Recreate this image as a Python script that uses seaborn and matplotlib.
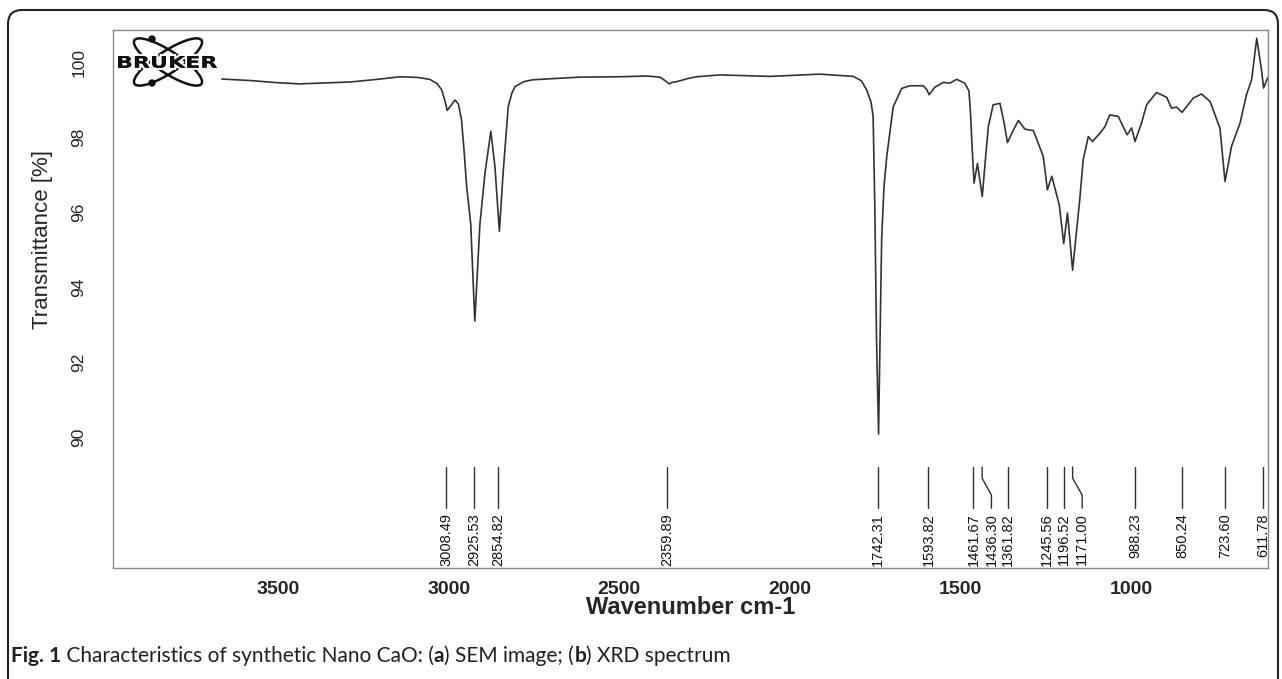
import matplotlib
matplotlib.use("Agg")
import matplotlib.pyplot as plt
import matplotlib.patheffects as pe
from matplotlib.patches import Ellipse, Circle, FancyBboxPatch, PathPatch
from matplotlib.textpath import TextPath
from matplotlib.font_manager import FontProperties
from matplotlib.transforms import IdentityTransform, Affine2D
import pandas as pd
import seaborn as sns

# spectrum (wavenumber cm-1, transmittance %)
wavenumber = [3666, 3584, 3500, 3437, 3380, 3290, 3200, 3144, 3090, 3056,
              3035, 3021, 3012, 3005, 2995, 2982, 2972, 2963, 2955, 2948,
              2936, 2924, 2909, 2894, 2877, 2865, 2852, 2841, 2826, 2815,
              2806, 2780, 2754, 2616, 2500, 2420, 2381, 2365, 2354, 2345,
              2332, 2300, 2274, 2205, 2059, 1912, 1814, 1790, 1775, 1762,
              1756, 1751, 1746, 1740, 1735, 1731, 1724, 1716, 1697, 1672, 1648,
              1609, 1598, 1592, 1575, 1550, 1531, 1511, 1487, 1475, 1470,
              1466, 1460, 1450, 1436, 1425, 1418, 1404, 1384, 1372, 1362,
              1345, 1330, 1311, 1286, 1257, 1245, 1232, 1210, 1197, 1186,
              1171, 1150, 1140, 1125, 1113, 1091, 1076, 1062, 1037, 1023,
              1011, 998, 988, 969, 954, 925, 895, 881, 866, 850,
              817, 793, 768, 739, 724, 705, 680, 661, 646, 631,
              617, 611, 598]
transmittance = [99.57, 99.53, 99.47, 99.44, 99.46, 99.49, 99.57, 99.63, 99.61, 99.56,
                 99.45, 99.28, 99.00, 98.73, 98.85, 99.01, 98.90, 98.48, 97.60, 96.70,
                 95.70, 93.10, 95.70, 97.07, 98.17, 97.23, 95.50, 97.06, 98.83, 99.20,
                 99.37, 99.50, 99.55, 99.62, 99.63, 99.65, 99.62, 99.52, 99.44, 99.48,
                 99.50, 99.58, 99.63, 99.68, 99.64, 99.70, 99.64, 99.52, 99.28, 98.95,
                 98.57, 96.17, 92.61, 90.08, 93.00, 95.28, 96.70, 97.50, 98.83, 99.32, 99.39,
                 99.39, 99.28, 99.15, 99.35, 99.48, 99.46, 99.56, 99.46, 99.25, 98.60,
                 97.80, 96.79, 97.31, 96.43, 97.60, 98.30, 98.88, 98.92, 98.40, 97.87,
                 98.20, 98.46, 98.23, 98.19, 97.50, 96.61, 96.97, 96.20, 95.17, 95.99,
                 94.46, 96.35, 97.41, 98.03, 97.90, 98.12, 98.30, 98.61, 98.57, 98.30,
                 98.08, 98.26, 97.90, 98.39, 98.88, 99.21, 99.08, 98.79, 98.82, 98.68,
                 99.06, 99.17, 98.97, 98.26, 96.83, 97.77, 98.39, 99.15, 99.55, 100.66,
                 99.81, 99.33, 99.62]

peaks = [3008.49, 2925.53, 2854.82, 2359.89, 1742.31, 1593.82, 1461.67, 1436.30,
         1361.82, 1245.56, 1196.52, 1171.00, 988.23, 850.24, 723.60, 611.78]
# labels that were pushed aside to avoid overlap
label_moved = {1436.30: 1409, 1171.00: 1143}

x_ticks = [3500, 3000, 2500, 2000, 1500, 1000]
y_ticks = [90, 92, 94, 96, 98, 100]

W, H = 1282, 679

sns.set_theme(style="white")
plt.rcParams['font.family'] = ['Liberation Sans', 'DejaVu Sans']

fig = plt.figure(figsize=(W / 100, H / 100), dpi=100)
ax = fig.add_axes([113 / W, 1 - 568 / H, (1268 - 113) / W, (568 - 30) / H])

df = pd.DataFrame({'wn': wavenumber, 'T': transmittance})
sns.lineplot(data=df, x='wn', y='T', ax=ax, color='#333333', lw=1.2,
             estimator=None, sort=False)

ax.set_xlim(3985, 598)
ax.set_ylim(86.5, 100.88)
ax.set_xticks(x_ticks)
ax.set_yticks(y_ticks)
ax.set_xlabel('Wavenumber cm-1', fontsize=17, fontweight='bold', labelpad=-1)
ax.set_ylabel('Transmittance [%]', fontsize=16)
ax.yaxis.set_label_coords(-0.052, 0.61)

for sp in ax.spines.values():
    sp.set_color('#8a8a8a')
    sp.set_linewidth(1.0)
ax.tick_params(axis='both', direction='out', length=7, width=1, color='#8a8a8a')
ax.tick_params(axis='x', labelsize=14, pad=2)
ax.tick_params(axis='y', labelsize=12.5, pad=12, labelrotation=90)
for t in ax.get_xticklabels():
    t.set_fontweight('bold')
for t in ax.get_yticklabels():
    t.set_va('center')

# peak pick marks
for p in peaks:
    lx = label_moved.get(p, p)
    if lx == p:
        ax.plot([p, p], [89.2, 88.1], color='#303030', lw=1)
    else:
        ax.plot([p, p, lx, lx], [89.2, 88.9, 88.45, 88.1], color='#303030', lw=1)
    ax.text(lx, 87.97, f'{p:.2f}', rotation=90, ha='center', va='top',
            fontsize=10.5, color='#111111')

# logo (pixel coordinates)
px = IdentityTransform()
cx, cy = 168, H - 62
for ang in (33, -33):
    fig.add_artist(Ellipse((cx, cy), 80, 22, angle=ang, fill=False, ec='#111',
                           lw=1.8, transform=px))
for dy in (39, 83):
    fig.add_artist(Circle((152, H - dy), 3, color='#111', transform=px))
tp = TextPath((0, 0), 'BRUKER', size=1,
              prop=FontProperties(family='DejaVu Sans', weight='bold'))
ext = tp.get_extents()
tr = Affine2D().translate(-ext.x0, -ext.y0).scale(99 / ext.width, 12 / ext.height)\
    .translate(118, H - 68)
logo = PathPatch(tr.transform_path(tp), fc='#111', ec='none', transform=px)
logo.set_path_effects([pe.withStroke(linewidth=3, foreground='white'), pe.Normal()])
fig.add_artist(logo)

# rounded frame
fig.add_artist(FancyBboxPatch((8, -60), 1270, H - 10 + 60,
                              boxstyle='round,pad=0,rounding_size=14',
                              fill=False, ec='#222', lw=1.5, transform=px))

# caption with bold parts
cap = [('Fig. 1', 'bold'), (' Characteristics of synthetic Nano CaO: (', 'normal'),
       ('a', 'bold'), (') SEM image; (', 'normal'), ('b', 'bold'),
       (') XRD spectrum', 'normal')]
cfont = dict(fontsize=15, family='Lato', color='#231f20')
prev = fig.text(11 / W, 1 - 662 / H, cap[0][0], fontweight=cap[0][1], va='baseline', **cfont)
for s, w in cap[1:]:
    prev = ax.annotate(s, xy=(1, 0), xycoords=prev, ha='left', va='bottom',
                       fontweight=w, annotation_clip=False, **cfont)

fig.savefig('out.png', dpi=100)
